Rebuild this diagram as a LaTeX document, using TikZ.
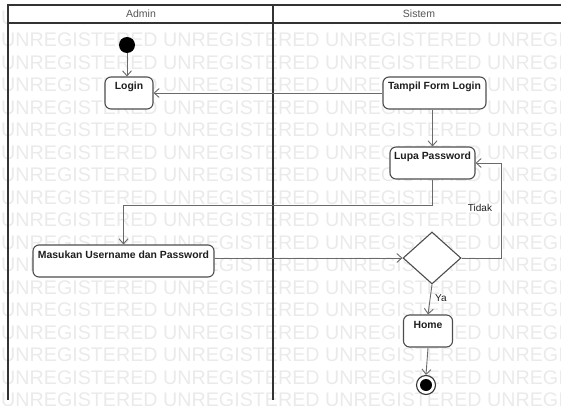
\documentclass[tikz,border=0pt]{standalone}
\usepackage{fontspec}
\setmainfont{Liberation Sans}
\usetikzlibrary{arrows.meta,shapes.geometric,calc}
\definecolor{wm}{HTML}{EAEAEA}
\definecolor{frameline}{HTML}{333333}
\definecolor{boxline}{HTML}{4D4D4D}
\definecolor{flow}{HTML}{6A6A6A}
\definecolor{labeltext}{HTML}{1E1E1E}
\definecolor{headtext}{HTML}{555555}
\begin{document}
\begin{tikzpicture}[x=1pt,y=-1pt,
  wmtext/.style={text=wm, inner sep=0pt, font=\fontsize{19.7}{20}\selectfont},
  lane/.style={draw=frameline, line width=1.6pt},
  head/.style={text=headtext, font=\fontsize{10.5}{12}\selectfont},
  activity/.style={draw=boxline, fill=white, line width=1.1pt, rounded corners=6pt,
    text=labeltext, font=\fontsize{10.4}{12}\selectfont\bfseries,
    inner xsep=3pt, inner ysep=3pt, text height=10pt, text depth=16pt},
  decision/.style={diamond, draw=boxline, fill=white, line width=1.1pt,
    minimum width=58pt, minimum height=52pt, inner sep=0pt},
  flowline/.style={draw=flow, line width=0.9pt, -{Straight Barb[length=5pt,width=9pt]}},
  guard/.style={text=labeltext, inner sep=1pt, font=\fontsize{10}{12}\selectfont}
]
\useasboundingbox (0,0) rectangle (561,406);

% background watermark rows
\begin{scope}
  \clip (0,0) rectangle (561,406);
  \foreach \k in {-1,...,16} {
    \node[wmtext, anchor=west] (wm\k) at (1, 40+22.5*\k)
      {UNREGISTERED UNREGISTERED UNREGISTERED UNREGISTERED};
  }
\end{scope}

% swimlane frame
\fill[white] (8,5) rectangle (561,23);
\draw[lane] (561,5) -- (8,5) -- (8,400);
\draw[lane] (8,23) -- (561,23);
\draw[lane] (273,5) -- (273,400);
\node[head] (laneA) at (141,14) {Admin};
\node[head] (laneS) at (419,14) {Sistem};

% activities
\node[circle, fill=black, minimum size=16pt, inner sep=0pt] (start) at (127,45) {};
\node[activity, minimum width=48pt] (login) at (129,93) {Login};
\node[activity, minimum width=103pt] (form) at (434.5,93) {Tampil Form Login};
\node[activity, minimum width=85pt] (lupa) at (432.5,163) {Lupa Password};
\node[activity, minimum width=181pt] (masuk) at (123.5,261) {Masukan Username dan Password};
\node[decision] (cek) at (432,258) {};
\node[activity, minimum width=49pt] (home) at (428,331) {Home};
\node[circle, draw=frameline, fill=white, line width=1.1pt, minimum size=19pt, inner sep=0pt] (stop) at (426,385) {};
\fill[black] (stop) circle (6pt);

% control flow
\coordinate (lupaDown) at ($(lupa.south)+(0,26)$);
\coordinate (loopRight) at (501,0);
\draw[flowline] (start) -- (start |- login.north);
\draw[flowline] (form.west) -- (login.east);
\draw[flowline] (form.south -| lupa.north) -- (lupa.north);
\draw[flowline] (lupa.south) -- (lupaDown) -| (masuk.north);
\draw[flowline] (masuk.east |- cek.west) -- (cek.west);
\draw[flowline] (cek.east) -- (cek.east -| loopRight) |- (lupa.east);
\draw[flowline] (cek.south) -- (home.north);
\draw[flowline] (home.south) -- (stop.north);

% guards
\node[guard] (tidak) at (480,208) {Tidak};
\node[guard, anchor=west] (ya) at (434,298) {Ya};
\end{tikzpicture}
\end{document}
